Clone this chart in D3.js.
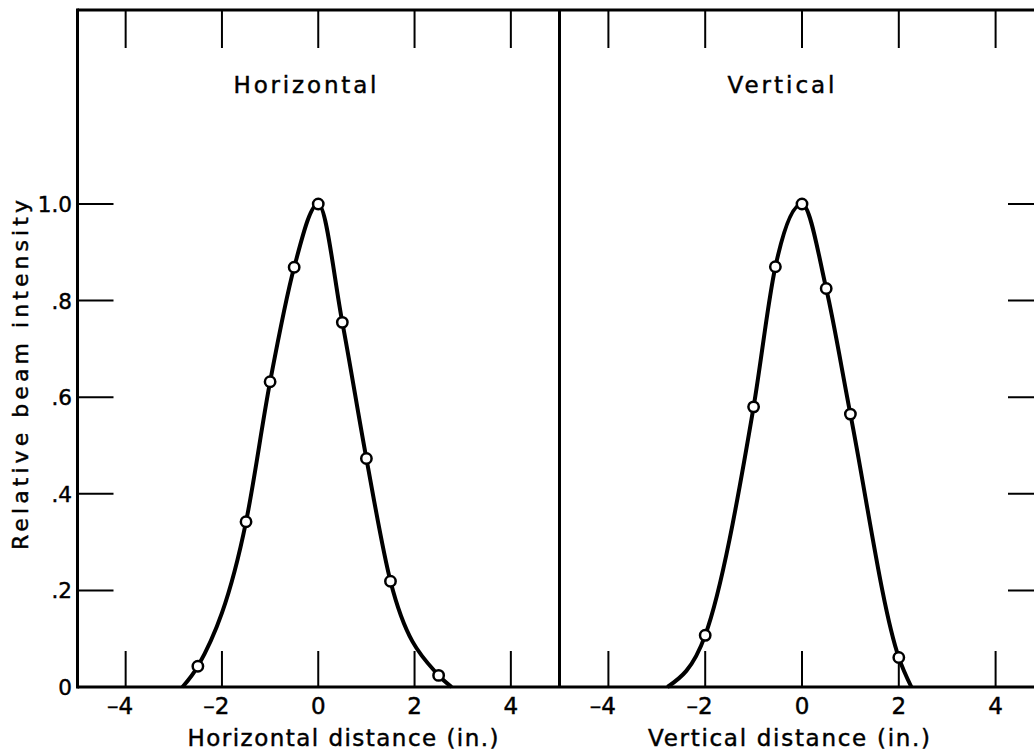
<!DOCTYPE html>
<html lang="en">
<head>
<meta charset="UTF-8">
<title>Relative beam intensity</title>
<script src="https://cdnjs.cloudflare.com/ajax/libs/d3/7.8.5/d3.min.js"></script>
<style>
    body { margin: 0; background: #fff; }
    svg { display: block; }
    text { font-family: "DejaVu Sans", sans-serif; fill: #000; stroke: #000; stroke-width: 0.45px; }
    .frame { stroke: #000; stroke-width: 3; fill: none; }
    .tick { stroke: #000; stroke-width: 2; }
    .curve { fill: none; stroke: #000; stroke-width: 4; stroke-linejoin: round; }
    .pt { fill: #fff; stroke: #000; stroke-width: 2.5; }
</style>
</head>
<body>
<div id="chart"></div>
<script>
// measured points
const horizX = [-2.5, -1.5, -1.0, -0.5, 0, 0.5, 1.0, 1.5, 2.5];
const horizY = [0.043, 0.342, 0.632, 0.869, 1.0, 0.755, 0.473, 0.219, 0.024];
const vertX = [-2.0, -1.0, -0.55, 0, 0.5, 1.0, 2.0];
const vertY = [0.107, 0.58, 0.87, 1.0, 0.825, 0.565, 0.061];

// where the hand-drawn curves meet the baseline
const horizEnds = [-2.82, 2.77];
const vertEnds = [-2.78, 2.26];

const xTicks = [-4, -2, 0, 2, 4];
const yTicks = [0.2, 0.4, 0.6, 0.8, 1.0];
const yTickLabels = ["0", ".2", ".4", ".6", ".8", "1.0"];

const W = 1034, H = 754;
const topY = 10, baseY = 687;
const tickLen = 36;

const svg = d3.select("#chart").append("svg")
    .attr("width", W).attr("height", H);

const y = d3.scaleLinear().domain([0, 1]).range([baseY, 204]);

const panels = [
    { x: d3.scaleLinear().domain([-5, 5]).range([77.5, 559]),
      px: horizX, py: horizY, ends: horizEnds,
      title: "Horizontal", titleX: 305, titleW: 143,
      xlab: "Horizontal distance (in.)", xlabX: 343, xlabW: 311 },
    { x: d3.scaleLinear().domain([-5, 5]).range([560, 1044]),
      px: vertX, py: vertY, ends: vertEnds,
      title: "Vertical", titleX: 781, titleW: 107,
      xlab: "Vertical distance (in.)", xlabX: 789, xlabW: 282 }
];

// frame
svg.append("line").attr("class", "frame")
    .attr("x1", 77.5).attr("x2", 1044).attr("y1", topY).attr("y2", topY);
svg.append("line").attr("class", "frame")
    .attr("x1", 77.5).attr("x2", 1044).attr("y1", baseY).attr("y2", baseY);
svg.append("line").attr("class", "frame")
    .attr("x1", 77.5).attr("x2", 77.5).attr("y1", topY - 1.5).attr("y2", baseY + 1.5);
svg.append("line").attr("class", "frame")
    .attr("x1", 559.5).attr("x2", 559.5).attr("y1", topY).attr("y2", baseY);
svg.append("line").attr("class", "frame")
    .attr("x1", 1044).attr("x2", 1044).attr("y1", topY).attr("y2", baseY);

// y ticks, inward on both outer sides
const yt = svg.append("g");
yt.selectAll("line.l").data(yTicks).join("line")
    .attr("class", "tick")
    .attr("x1", 77.5).attr("x2", 77.5 + tickLen)
    .attr("y1", d => y(d)).attr("y2", d => y(d));
yt.selectAll("line.r").data(yTicks).join("line")
    .attr("class", "tick r")
    .attr("x1", 1044 - tickLen).attr("x2", 1044)
    .attr("y1", d => y(d)).attr("y2", d => y(d));

svg.append("g").selectAll("text").data([0].concat(yTicks)).join("text")
    .attr("x", 72)
    .attr("y", d => y(d) + 8)
    .attr("text-anchor", "end")
    .style("font-size", "21.5px")
    .text((d, i) => yTickLabels[i]);

svg.append("text")
    .attr("transform", "translate(28,375) rotate(-90)")
    .attr("text-anchor", "middle")
    .attr("textLength", 350)
    .attr("lengthAdjust", "spacing")
    .style("font-size", "22px")
    .text("Relative beam intensity");

const line = d3.line().curve(d3.curveMonotoneX);

panels.forEach(p => {
    const g = svg.append("g");
    g.selectAll("line.b").data(xTicks).join("line")
        .attr("class", "tick")
        .attr("x1", d => p.x(d)).attr("x2", d => p.x(d))
        .attr("y1", baseY).attr("y2", baseY - tickLen);
    g.selectAll("line.t").data(xTicks).join("line")
        .attr("class", "tick t")
        .attr("x1", d => p.x(d)).attr("x2", d => p.x(d))
        .attr("y1", topY).attr("y2", topY + 38);

    // digit centred on its tick, the minus hangs to the left
    g.selectAll("text.xt").data(xTicks).join("text")
        .attr("class", "xt")
        .attr("x", d => d < 0 ? p.x(d) + 7.5 : p.x(d))
        .attr("y", 714)
        .attr("text-anchor", d => d < 0 ? "end" : "middle")
        .style("font-size", "23px")
        .text(d => d < 0 ? "\u2013" + Math.abs(d) : d);

    g.append("text")
        .attr("x", p.titleX).attr("y", 93)
        .attr("text-anchor", "middle")
        .attr("textLength", p.titleW)
        .attr("lengthAdjust", "spacing")
        .style("font-size", "23px")
        .text(p.title);

    g.append("text")
        .attr("x", p.xlabX).attr("y", 746)
        .attr("text-anchor", "middle")
        .attr("textLength", p.xlabW)
        .attr("lengthAdjust", "spacing")
        .style("font-size", "23px")
        .text(p.xlab);

    const pts = [[p.ends[0], 0]]
        .concat(p.px.map((v, i) => [v, p.py[i]]))
        .concat([[p.ends[1], 0]]);
    g.append("path").attr("class", "curve")
        .attr("d", line(pts.map(d => [p.x(d[0]), y(d[1])])));

    g.selectAll("circle").data(p.px).join("circle")
        .attr("class", "pt")
        .attr("cx", d => p.x(d))
        .attr("cy", (d, i) => y(p.py[i]))
        .attr("r", 5.2);
});
</script>
</body>
</html>
